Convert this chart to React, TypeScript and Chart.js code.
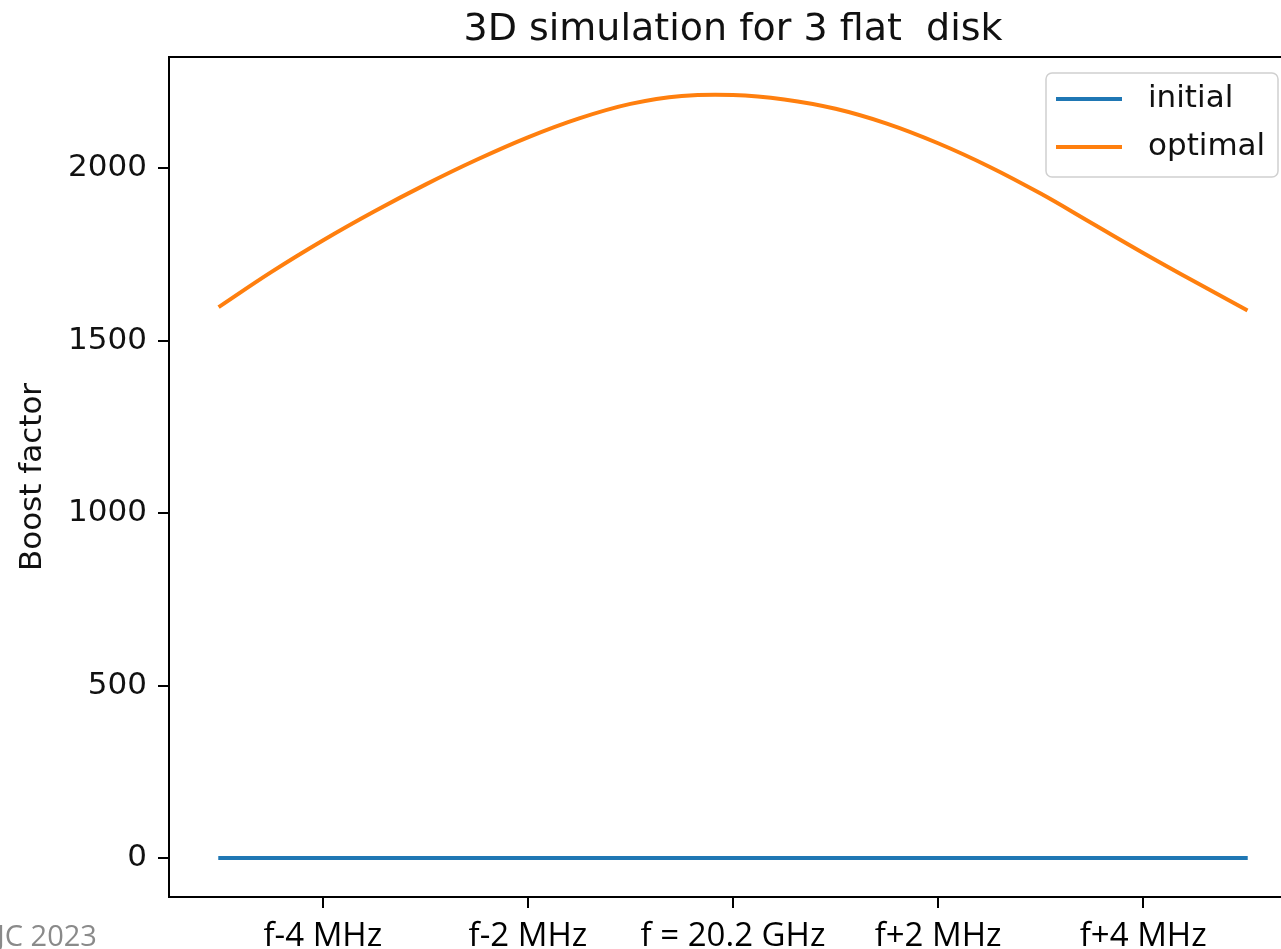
import React, { useEffect, useRef } from "react";
import { Chart, registerables } from "chart.js";

Chart.register(...registerables);

// ---- data ----
const freqOffsetsMHz = [-5, -4.5, -4, -3.5, -3, -2.5, -2, -1.5, -1, -0.5, 0, 0.5, 1, 1.5, 2, 2.5, 3, 3.5, 4, 4.5, 5];
const initialBoost = [0, 0, 0, 0, 0, 0, 0, 0, 0, 0, 0, 0, 0, 0, 0, 0, 0, 0, 0, 0, 0];
const optimalBoost = [1600, 1699, 1790, 1874, 1952, 2024, 2089, 2144, 2186, 2209, 2212, 2199, 2172, 2129, 2072, 2004, 1926, 1840, 1754, 1671, 1590];
const xTickValues = [-4, -2, 0, 2, 4];
const xTickLabels = ["f-4 MHz", "f-2 MHz", "f = 20.2 GHz", "f+2 MHz", "f+4 MHz"];
const yTickValues = [0, 500, 1000, 1500, 2000];
const seriesLabels = ["initial", "optimal"];
const seriesColors = ["#1f77b4", "#ff7f0e"];
const titleText = "3D simulation for 3 flat  disk";
const yAxisTitle = "Boost factor";
const footnote = "JC 2023";

const MPL_FONT = '"DejaVu Sans", sans-serif';
const SLIDE_FONT = '"Open Sans", sans-serif';

const decorPlugin = {
  id: "decor",
  afterDraw(chart: any) {
    const { ctx, chartArea: a } = chart;
    ctx.save();
    // top & right spines
    ctx.strokeStyle = "#000";
    ctx.lineWidth = 2;
    ctx.beginPath();
    ctx.moveTo(a.left, a.top);
    ctx.lineTo(a.right, a.top);
    ctx.lineTo(a.right, a.bottom);
    ctx.stroke();

    // title centred over the axes
    ctx.font = `38px ${MPL_FONT}`;
    ctx.fillStyle = "#111";
    ctx.textAlign = "center";
    ctx.textBaseline = "alphabetic";
    ctx.fillText(titleText, (a.left + a.right) / 2, 40);

    // legend (upper right, inside axes)
    const boxRight = a.right - 19;
    const boxLeft = boxRight - 232;
    const boxTop = a.top + 16;
    const boxH = 104;
    ctx.beginPath();
    (ctx as any).roundRect(boxLeft, boxTop, boxRight - boxLeft, boxH, 6);
    ctx.fillStyle = "rgba(255,255,255,0.85)";
    ctx.fill();
    ctx.strokeStyle = "#d0d0d0";
    ctx.lineWidth = 1.5;
    ctx.stroke();
    const ds = chart.data.datasets;
    ds.forEach((d: any, i: number) => {
      const y = boxTop + 26 + i * 48;
      ctx.strokeStyle = d.borderColor;
      ctx.lineWidth = 4;
      ctx.lineCap = "butt";
      ctx.beginPath();
      ctx.moveTo(boxLeft + 10, y);
      ctx.lineTo(boxLeft + 76, y);
      ctx.stroke();
      ctx.fillStyle = "#111";
      ctx.font = `31px ${MPL_FONT}`;
      ctx.textAlign = "left";
      ctx.textBaseline = "middle";
      ctx.fillText(d.label, boxLeft + 102, y);
    });

    // footnote
    ctx.font = `29px ${SLIDE_FONT}`;
    ctx.fillStyle = "#8a8a8a";
    ctx.textAlign = "left";
    ctx.textBaseline = "alphabetic";
    ctx.fillText(footnote, -3, 946);
    ctx.restore();
  },
};

export default function App() {
  const canvasRef = useRef<HTMLCanvasElement | null>(null);

  useEffect(() => {
    const canvas = canvasRef.current;
    if (!canvas) return;
    const chart = new Chart(canvas, {
      type: "line",
      data: {
        datasets: [
          {
            label: seriesLabels[0],
            data: freqOffsetsMHz.map((x, i) => ({ x, y: initialBoost[i] })),
            borderColor: seriesColors[0],
            backgroundColor: seriesColors[0],
            borderWidth: 4,
            borderCapStyle: "square",
            pointRadius: 0,
            fill: false,
          },
          {
            label: seriesLabels[1],
            data: freqOffsetsMHz.map((x, i) => ({ x, y: optimalBoost[i] })),
            borderColor: seriesColors[1],
            backgroundColor: seriesColors[1],
            borderWidth: 4,
            borderCapStyle: "square",
            pointRadius: 0,
            fill: false,
            tension: 0.4,
          },
        ],
      },
      options: {
        responsive: false,
        animation: false,
        layout: { padding: { left: 0, right: 33, top: 57, bottom: 0 } },
        plugins: {
          legend: { display: false },
          title: { display: false },
          tooltip: { enabled: false },
        },
        scales: {
          x: {
            type: "linear",
            min: -5.5,
            max: 5.5,
            afterBuildTicks: (s: any) => {
              s.ticks = xTickValues.map((v) => ({ value: v }));
            },
            afterFit: (s: any) => {
              s.height = 52;
            },
            ticks: {
              autoSkip: false,
              maxRotation: 0,
              padding: 9,
              color: "#000",
              font: { family: SLIDE_FONT, size: 33 },
              callback: (v: any) => xTickLabels[xTickValues.indexOf(Number(v))] ?? "",
            },
            grid: {
              display: true,
              drawOnChartArea: false,
              drawTicks: true,
              tickLength: 11,
              color: "#000",
              lineWidth: 2,
            },
            border: { display: true, color: "#000", width: 2 },
          },
          y: {
            type: "linear",
            min: -113,
            max: 2322,
            afterBuildTicks: (s: any) => {
              s.ticks = yTickValues.map((v) => ({ value: v }));
            },
            afterFit: (s: any) => {
              s.width = 169;
            },
            ticks: {
              padding: 11,
              color: "#111",
              font: { family: MPL_FONT, size: 31 },
              callback: (v: any) => String(v),
            },
            grid: {
              display: true,
              drawOnChartArea: false,
              drawTicks: true,
              tickLength: 11,
              color: "#000",
              lineWidth: 2,
            },
            border: { display: true, color: "#000", width: 2 },
            title: {
              display: true,
              text: yAxisTitle,
              color: "#111",
              font: { family: MPL_FONT, size: 31 },
              padding: { top: 14, bottom: 0 },
            },
          },
        },
      },
      plugins: [decorPlugin],
    });
    return () => chart.destroy();
  }, []);

  return (
    <div
      style={{
        position: "absolute",
        left: 0,
        top: 0,
        width: 1281,
        height: 949,
        overflow: "hidden",
        background: "#fff",
      }}
    >
      <canvas ref={canvasRef} width={1330} height={949} style={{ display: "block" }} />
    </div>
  );
}
